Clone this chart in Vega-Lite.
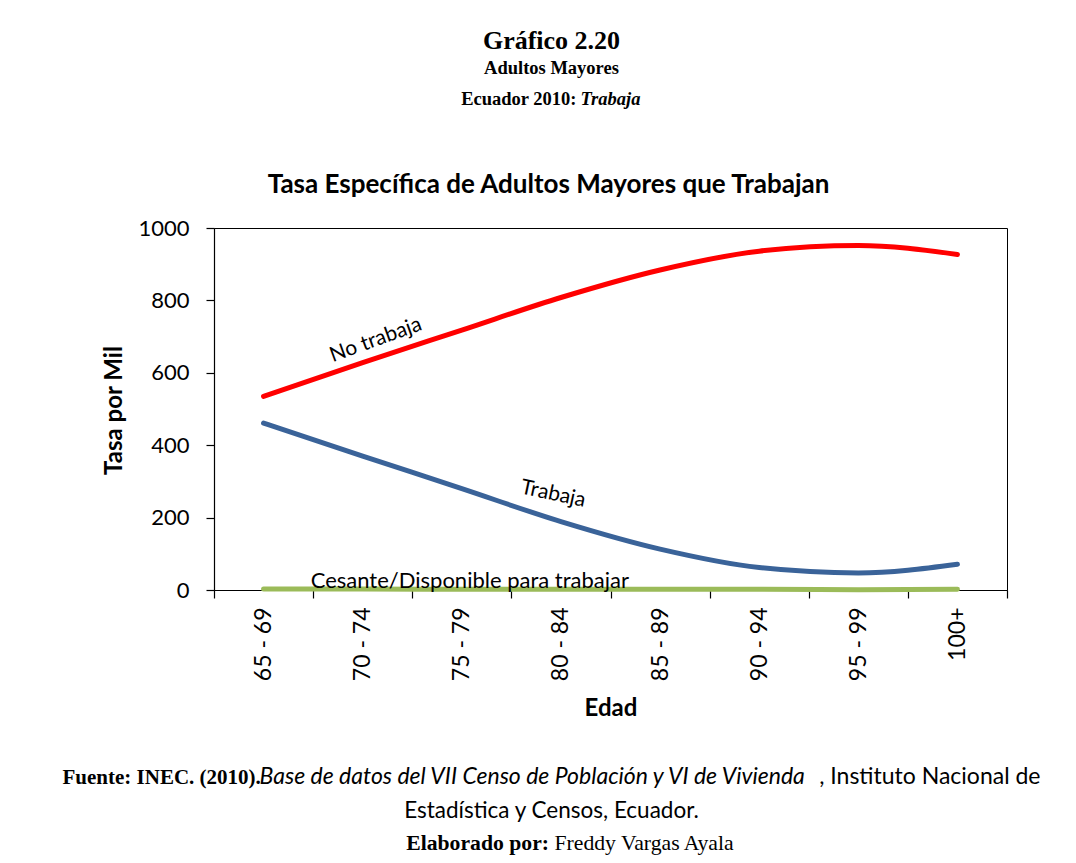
{
  "$schema": "https://vega.github.io/schema/vega-lite/v6.json",
  "width": 793,
  "height": 362,
  "autosize": {"type": "none"},
  "padding": {"left": 214, "top": 228, "right": 69, "bottom": 273},
  "background": "white",
  "config": {
    "view": {"stroke": "black", "strokeWidth": 1},
    "font": "Lato",
    "axis": {"grid": false, "labelColor": "black", "titleColor": "black", "domainColor": "black", "tickColor": "black", "titleLimit": 2000}
  },
  "title": {
    "text": "Gráfico 2.20",
    "subtitle": "Adultos Mayores",
    "anchor": "middle",
    "frame": "group",
    "dx": -59,
    "offset": 12,
    "font": "Liberation Serif",
    "fontSize": 26,
    "fontWeight": "bold",
    "color": "black",
    "subtitleFont": "Liberation Serif",
    "subtitleFontSize": 18.5,
    "subtitleFontWeight": "bold",
    "subtitleColor": "black",
    "subtitlePadding": 5
  },
  "datasets": {
    "series": [
      {"edad": "65 - 69", "serie": "No trabaja", "tasa": 535},
      {"edad": "70 - 74", "serie": "No trabaja", "tasa": 628},
      {"edad": "75 - 79", "serie": "No trabaja", "tasa": 718},
      {"edad": "80 - 84", "serie": "No trabaja", "tasa": 808},
      {"edad": "85 - 89", "serie": "No trabaja", "tasa": 884},
      {"edad": "90 - 94", "serie": "No trabaja", "tasa": 936},
      {"edad": "95 - 99", "serie": "No trabaja", "tasa": 952},
      {"edad": "100+", "serie": "No trabaja", "tasa": 927},
      {"edad": "65 - 69", "serie": "Trabaja", "tasa": 461},
      {"edad": "70 - 74", "serie": "Trabaja", "tasa": 370},
      {"edad": "75 - 79", "serie": "Trabaja", "tasa": 280},
      {"edad": "80 - 84", "serie": "Trabaja", "tasa": 189},
      {"edad": "85 - 89", "serie": "Trabaja", "tasa": 113},
      {"edad": "90 - 94", "serie": "Trabaja", "tasa": 62},
      {"edad": "95 - 99", "serie": "Trabaja", "tasa": 47},
      {"edad": "100+", "serie": "Trabaja", "tasa": 71},
      {"edad": "65 - 69", "serie": "Cesante/Disponible para trabajar", "tasa": 3},
      {"edad": "70 - 74", "serie": "Cesante/Disponible para trabajar", "tasa": 3},
      {"edad": "75 - 79", "serie": "Cesante/Disponible para trabajar", "tasa": 2},
      {"edad": "80 - 84", "serie": "Cesante/Disponible para trabajar", "tasa": 2},
      {"edad": "85 - 89", "serie": "Cesante/Disponible para trabajar", "tasa": 2},
      {"edad": "90 - 94", "serie": "Cesante/Disponible para trabajar", "tasa": 2},
      {"edad": "95 - 99", "serie": "Cesante/Disponible para trabajar", "tasa": 1},
      {"edad": "100+", "serie": "Cesante/Disponible para trabajar", "tasa": 2}
    ],
    "labels": [
      {"edad": "70 - 74", "tasa": 677, "label": "No trabaja"},
      {"edad": "80 - 84", "tasa": 260, "label": "Trabaja"},
      {"edad": "75 - 79", "tasa": 25, "label": "Cesante/Disponible para trabajar"}
    ]
  },
  "resolve": {"axis": {"x": "independent", "y": "independent"}},
  "layer": [
    {
      "data": {"name": "series"},
      "transform": [{"filter": {"field": "serie", "equal": "No trabaja"}}],
      "mark": {"type": "line", "strokeWidth": 5, "interpolate": "monotone", "strokeCap": "round"},
      "encoding": {
        "x": {"field": "edad", "type": "ordinal", "bandPosition": 0.5,
          "scale": {"type": "band", "domain": ["65 - 69", "70 - 74", "75 - 79", "80 - 84", "85 - 89", "90 - 94", "95 - 99", "100+"], "paddingInner": 0, "paddingOuter": 0},
          "axis": {"orient": "bottom", "title": "Edad", "titleFont": "Lato", "titleFontSize": 24, "titleFontWeight": "bold", "titleX": 396.5, "titleY": 125, "titleAlign": "center", "titleBaseline": "alphabetic",
            "labelAngle": 270, "labelFont": "Lato", "labelFontSize": 23, "labelPadding": 9, "labelAlign": "right", "labelBaseline": "middle", "labelOverlap": false, "labelLimit": 300,
            "tickBand": "extent", "tickSize": 8, "domainWidth": 1.2, "tickWidth": 1.2}},
        "y": {"field": "tasa", "type": "quantitative", "scale": {"domain": [0, 1000], "nice": false},
          "axis": {"orient": "left", "values": [0, 200, 400, 600, 800, 1000], "format": "d", "title": "Tasa por Mil", "titleFont": "Lato", "titleFontSize": 24, "titleFontWeight": "bold", "titleAngle": 270, "titleX": -93, "titleY": 182, "titleAlign": "center", "titleBaseline": "alphabetic",
            "labelFont": "Lato", "labelFontSize": 22, "labelPadding": 17, "tickSize": 8, "domainWidth": 1.2, "tickWidth": 1.2}},
        "color": {"field": "serie", "type": "nominal", "legend": null,
          "scale": {"domain": ["No trabaja", "Trabaja", "Cesante/Disponible para trabajar"], "range": ["#FF0000", "#3A6399", "#9BBB59"]}}
      }
    },
    {
      "data": {"name": "series"},
      "transform": [{"filter": {"field": "serie", "equal": "Trabaja"}}],
      "mark": {"type": "line", "strokeWidth": 5, "interpolate": "monotone", "strokeCap": "round"},
      "encoding": {
        "x": {"field": "edad", "type": "ordinal", "bandPosition": 0.5,
          "axis": {"orient": "bottom", "labels": false, "ticks": false, "domain": false, "title": "Fuente: INEC. (2010).", "titleFont": "Liberation Serif", "titleFontSize": 21, "titleFontWeight": "bold", "titleX": -152, "titleY": 193, "titleAlign": "left", "titleBaseline": "alphabetic"}},
        "y": {"field": "tasa", "type": "quantitative",
          "axis": {"orient": "left", "labels": false, "ticks": false, "domain": false, "title": "Ecuador 2010:", "titleFont": "Liberation Serif", "titleFontSize": 18.5, "titleFontWeight": "bold", "titleAngle": 0, "titleX": 362, "titleY": -124, "titleAlign": "right", "titleBaseline": "alphabetic"}},
        "color": {"field": "serie", "type": "nominal", "legend": null}
      }
    },
    {
      "data": {"name": "series"},
      "transform": [{"filter": {"field": "serie", "equal": "Cesante/Disponible para trabajar"}}],
      "mark": {"type": "line", "strokeWidth": 5, "interpolate": "monotone", "strokeCap": "round"},
      "encoding": {
        "x": {"field": "edad", "type": "ordinal", "bandPosition": 0.5,
          "axis": {"orient": "bottom", "labels": false, "ticks": false, "domain": false, "title": "Base de datos del VII Censo de Población y VI de Vivienda", "titleFont": "Lato", "titleFontSize": 23, "titleFontWeight": "normal", "titleFontStyle": "italic", "titleX": 45, "titleY": 193, "titleAlign": "left", "titleBaseline": "alphabetic"}},
        "y": {"field": "tasa", "type": "quantitative",
          "axis": {"orient": "left", "labels": false, "ticks": false, "domain": false, "title": "Trabaja", "titleFont": "Liberation Serif", "titleFontSize": 18.5, "titleFontWeight": "bold", "titleFontStyle": "italic", "titleAngle": 0, "titleX": 366, "titleY": -124, "titleAlign": "left", "titleBaseline": "alphabetic"}},
        "color": {"field": "serie", "type": "nominal", "legend": null}
      }
    },
    {
      "data": {"name": "labels"},
      "transform": [{"filter": {"field": "label", "equal": "No trabaja"}}],
      "mark": {"type": "text", "font": "Lato", "fontSize": 21, "color": "black", "angle": 340, "dx": 14, "align": "center", "baseline": "middle"},
      "encoding": {
        "x": {"field": "edad", "type": "ordinal", "bandPosition": 0.5,
          "axis": {"orient": "bottom", "labels": false, "ticks": false, "domain": false, "title": ", Instituto Nacional de", "titleFont": "Lato", "titleFontSize": 23, "titleFontWeight": "normal", "titleX": 826, "titleY": 193, "titleAlign": "right", "titleBaseline": "alphabetic"}},
        "y": {"field": "tasa", "type": "quantitative",
          "axis": {"orient": "left", "labels": false, "ticks": false, "domain": false, "title": "Tasa Específica de Adultos Mayores  que Trabajan", "titleFont": "Lato", "titleFontSize": 26, "titleFontWeight": "bold", "titleAngle": 0, "titleX": 334, "titleY": -36, "titleAlign": "center", "titleBaseline": "alphabetic"}},
        "text": {"field": "label", "type": "nominal"}
      }
    },
    {
      "data": {"name": "labels"},
      "transform": [{"filter": {"field": "label", "equal": "Trabaja"}}],
      "mark": {"type": "text", "font": "Lato", "fontSize": 21, "color": "black", "angle": 12, "dx": -8, "align": "center", "baseline": "middle"},
      "encoding": {
        "x": {"field": "edad", "type": "ordinal", "bandPosition": 0.5,
          "axis": {"orient": "bottom", "labels": false, "ticks": false, "domain": false, "title": "Estadística y Censos, Ecuador.", "titleFont": "Lato", "titleFontSize": 22.5, "titleFontWeight": "normal", "titleX": 337, "titleY": 227, "titleAlign": "center", "titleBaseline": "alphabetic"}},
        "y": {"field": "tasa", "type": "quantitative",
          "axis": {"orient": "left", "labels": false, "ticks": false, "domain": false, "title": "Elaborado por:", "titleFont": "Liberation Serif", "titleFontSize": 21.7, "titleFontWeight": "bold", "titleAngle": 0, "titleX": 334.5, "titleY": 621, "titleAlign": "right", "titleBaseline": "alphabetic"}},
        "text": {"field": "label", "type": "nominal"}
      }
    },
    {
      "data": {"name": "labels"},
      "transform": [{"filter": {"field": "label", "equal": "Cesante/Disponible para trabajar"}}],
      "mark": {"type": "text", "font": "Lato", "fontSize": 22, "color": "black", "dx": 8, "align": "center", "baseline": "middle"},
      "encoding": {
        "x": {"field": "edad", "type": "ordinal", "bandPosition": 0.5, "axis": null},
        "y": {"field": "tasa", "type": "quantitative",
          "axis": {"orient": "left", "labels": false, "ticks": false, "domain": false, "title": "Freddy Vargas Ayala", "titleFont": "Liberation Serif", "titleFontSize": 21.7, "titleFontWeight": "normal", "titleAngle": 0, "titleX": 340, "titleY": 621, "titleAlign": "left", "titleBaseline": "alphabetic"}},
        "text": {"field": "label", "type": "nominal"}
      }
    }
  ]
}
